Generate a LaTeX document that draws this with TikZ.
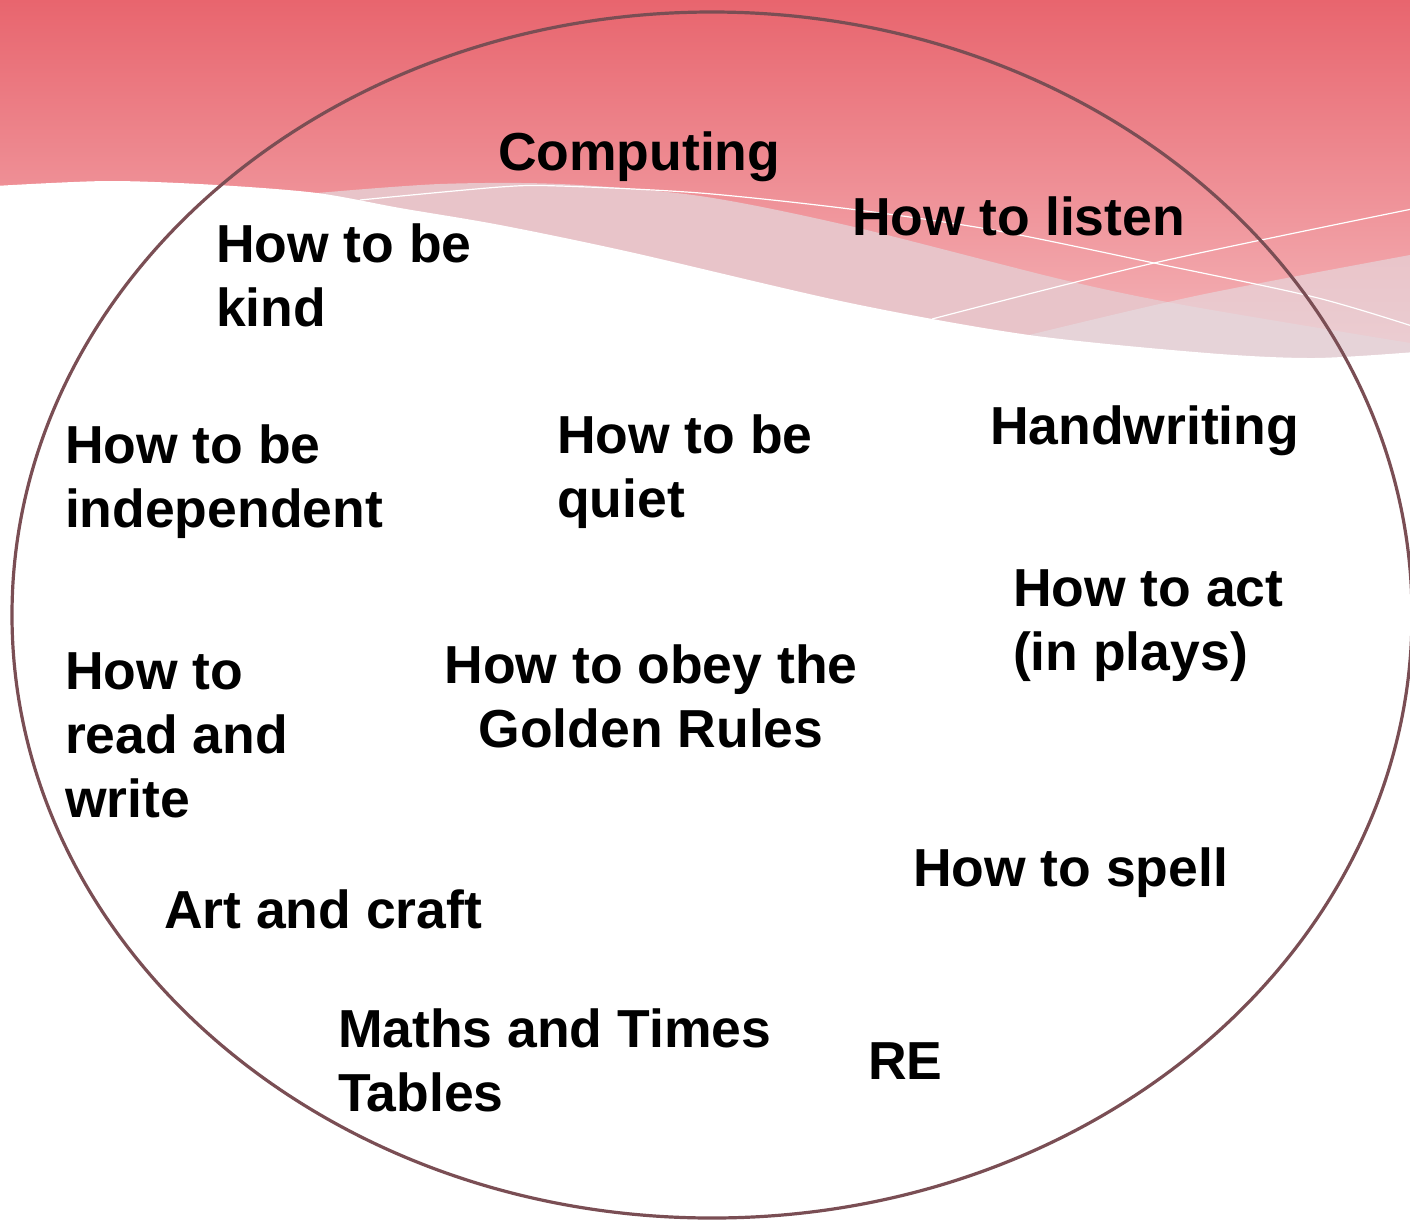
\documentclass[tikz,border=0pt]{standalone}
\usepackage{fontspec}
\setmainfont{Liberation Sans}
\definecolor{redtop}{RGB}{232,101,110}
\definecolor{redbot}{RGB}{245,184,188}
\definecolor{bandA}{RGB}{232,196,201}
\definecolor{bandB}{RGB}{229,222,227}
\definecolor{ringcol}{RGB}{122,78,84}
\newcommand\mylines[1]{\begin{tabular}[t]{@{}l@{}}#1\end{tabular}}
\newcommand\mycenter[1]{\begin{tabular}[t]{@{}c@{}}#1\end{tabular}}
\begin{document}
\begin{tikzpicture}[x=1pt,y=-1pt,
  lbl/.style={inner sep=0pt, outer sep=0pt, anchor=base west,
    font=\fontsize{53.5}{64}\selectfont\bfseries, text=black},
  thinwhite/.style={draw=white, line width=1.2pt},
  ring/.style={draw=ringcol, line width=3.2pt}]
\useasboundingbox (0,0) rectangle (1410,1219);
% background
\shade[top color=redtop, bottom color=redbot] (0,0) rectangle (1410,365);
\fill[bandA] plot[smooth] coordinates {(317,193) (440,184) (560,184) (700,196) (850,226) (1064,280) (1189,306) (1410,343)}
  -- (1410,430) -- (317,430) -- cycle;
\fill[bandB, fill opacity=0.6] plot[smooth] coordinates {(1029,335) (1200,295) (1410,255)}
  -- (1410,430) -- (1029,430) -- cycle;
\fill[white] plot[smooth] coordinates {(-5,186) (108,181) (217,185) (317,193) (400,208) (500,225) (630,252) (850,303) (1029,335) (1207,353) (1314,358) (1415,352)}
  -- (1415,1230) -- (-5,1230) -- cycle;
\draw[thinwhite] plot[smooth] coordinates {(360,200) (500,187) (560,186) (700,193) (850,209) (993,230) (1154,263) (1314,297) (1412,326)};
\draw[thinwhite] plot[smooth] coordinates {(932,319) (1154,263) (1412,209)};
% ellipse
\draw[ring] (712,615) ellipse [x radius=700, y radius=603];
% labels
\node[lbl] (computing) at (498,170) {Computing};
\node[lbl] (listen) at (852,235) {How to listen};
\node[lbl] (kind) at (216,262) {\mylines{How to be\\kind}};
\node[lbl] (indep) at (65,463) {\mylines{How to be\\independent}};
\node[lbl] (quiet) at (557,453) {\mylines{How to be\\quiet}};
\node[lbl] (hand) at (990,444) {Handwriting};
\node[lbl] (act) at (1013,606) {\mylines{How to act\\(in plays)}};
\node[lbl] (read) at (65,689) {\mylines{How to\\read and\\write}};
\node[lbl, anchor=base] (golden) at (651,683) {\mycenter{How to obey the\\Golden Rules}};
\node[lbl] (art) at (164,928) {Art and craft};
\node[lbl] (spell) at (913,886) {How to spell};
\node[lbl] (maths) at (338,1047) {\mylines{Maths and Times\\Tables}};
\node[lbl] (re) at (868,1079) {RE};
\end{tikzpicture}
\end{document}
